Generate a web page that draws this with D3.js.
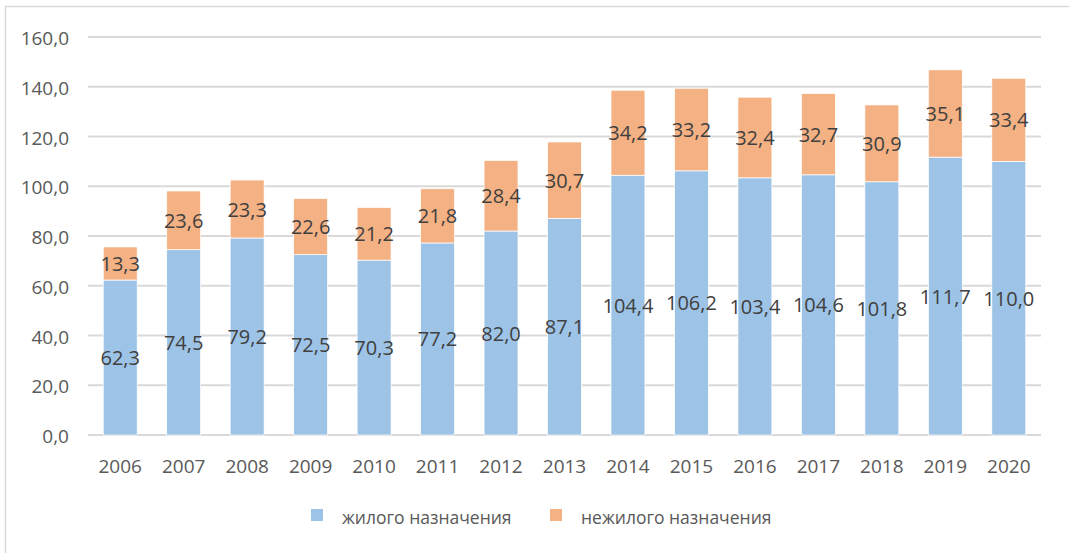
<!DOCTYPE html>
<html>
<head>
<meta charset="utf-8">
<script src="https://cdn.jsdelivr.net/npm/d3@7"></script>
<style>
  body { margin: 0; background: #fff; }
  svg { display: block; font-family: "Open Sans", sans-serif; }
</style>
</head>
<body>
<svg id="chart" width="1069" height="553"></svg>
<script>
const years = ["2006","2007","2008","2009","2010","2011","2012","2013","2014","2015","2016","2017","2018","2019","2020"];
const living = [62.3, 74.5, 79.2, 72.5, 70.3, 77.2, 82.0, 87.1, 104.4, 106.2, 103.4, 104.6, 101.8, 111.7, 110.0];
const nonLiving = [13.3, 23.6, 23.3, 22.6, 21.2, 21.8, 28.4, 30.7, 34.2, 33.2, 32.4, 32.7, 30.9, 35.1, 33.4];
const seriesNames = ["жилого назначения", "нежилого назначения"];
const yTicks = [0, 20, 40, 60, 80, 100, 120, 140, 160];

const colors = ["#9DC3E6", "#F4B183"];
const svg = d3.select("#chart");

// chart frame (only top and left edges show in the picture)
svg.append("line").attr("x1", 5).attr("x2", 1069).attr("y1", 6.5).attr("y2", 6.5)
    .attr("stroke", "#d9d9d9").attr("stroke-width", 1.5);
svg.append("line").attr("x1", 5.5).attr("x2", 5.5).attr("y1", 6).attr("y2", 553)
    .attr("stroke", "#d9d9d9").attr("stroke-width", 1.5);

const plotLeft = 88, plotRight = 1041, plotTop = 37, plotBottom = 435;

const x = d3.scaleBand().domain(years).range([plotLeft, plotRight]).paddingInner(0.465).paddingOuter(0.24);
const y = d3.scaleLinear().domain([0, 160]).range([plotBottom, plotTop]);

const fmt = v => d3.format(".1f")(v).replace(".", ",");

// gridlines
svg.append("g").selectAll("line")
    .data(yTicks)
    .enter().append("line")
    .attr("x1", plotLeft).attr("x2", plotRight)
    .attr("y1", d => y(d)).attr("y2", d => y(d))
    .attr("stroke", "#d9d9d9").attr("stroke-width", 2);

// y tick labels
svg.append("g").selectAll("text")
    .data(yTicks)
    .enter().append("text")
    .attr("x", 69).attr("y", d => y(d) + 1)
    .attr("text-anchor", "end").attr("dominant-baseline", "central")
    .attr("fill", "#595959").attr("font-size", 19)
    .text(d => fmt(d));

// x labels
svg.append("g").selectAll("text")
    .data(years)
    .enter().append("text")
    .attr("x", d => x(d) + x.bandwidth() / 2).attr("y", 466)
    .attr("text-anchor", "middle").attr("dominant-baseline", "central")
    .attr("fill", "#595959").attr("font-size", 19)
    .text(d => d);

const rows = years.map((yr, i) => ({year: yr, living: living[i], nonLiving: nonLiving[i]}));
const stack = d3.stack().keys(["living", "nonLiving"])(rows);

const layers = svg.append("g").selectAll("g")
    .data(stack)
    .enter().append("g")
    .attr("fill", (d, i) => colors[i]);

layers.selectAll("rect")
    .data(d => d)
    .enter().append("rect")
    .attr("x", d => x(d.data.year))
    .attr("width", x.bandwidth())
    .attr("y", d => y(d[1]))
    .attr("height", d => y(d[0]) - y(d[1]))
    .attr("stroke", "#fff").attr("stroke-width", 0.75);

// value labels
layers.selectAll("text")
    .data(d => d)
    .enter().append("text")
    .attr("x", d => x(d.data.year) + x.bandwidth() / 2)
    .attr("y", d => (y(d[0]) + y(d[1])) / 2)
    .attr("text-anchor", "middle").attr("dominant-baseline", "central")
    .attr("fill", "#404040").attr("font-size", 20)
    .text(d => fmt(d[1] - d[0]));

// legend
const legendX = [311, 550];
const legend = svg.append("g").selectAll("g")
    .data(seriesNames)
    .enter().append("g")
    .attr("transform", (d, i) => `translate(${legendX[i]}, 509)`);
legend.append("rect").attr("width", 12).attr("height", 12).attr("fill", (d, i) => colors[i]);
legend.append("text")
    .attr("x", 31).attr("y", 8)
    .attr("dominant-baseline", "central")
    .attr("fill", "#595959").attr("font-size", 17.5)
    .text(d => d);
</script>
</body>
</html>
